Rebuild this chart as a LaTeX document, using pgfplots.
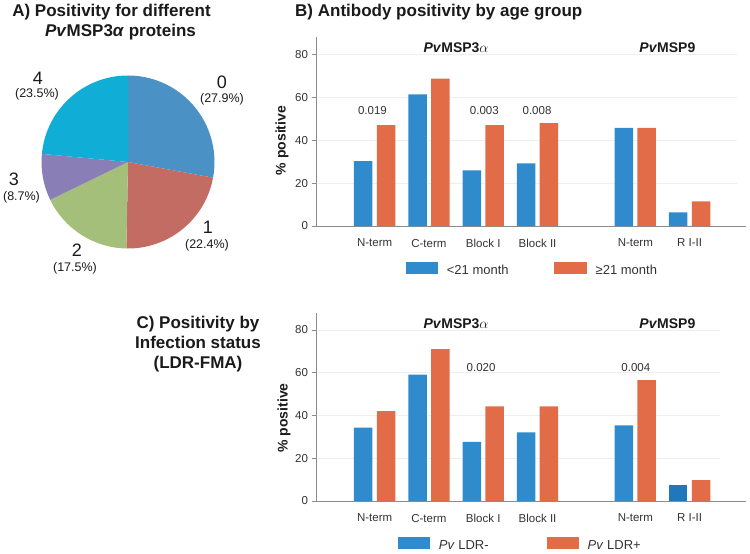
\documentclass[border=0pt]{standalone}
\usepackage{fontspec}
\setmainfont{Liberation Sans}
\usepackage{pgfplots}
\pgfplotsset{compat=1.18}
\definecolor{barblue}{HTML}{2F8BCB}
\definecolor{barbluedk}{HTML}{1F78BC}
\definecolor{barorange}{HTML}{E36C48}
\definecolor{pieA}{HTML}{4A91C6}
\definecolor{pieB}{HTML}{C26C64}
\definecolor{pieC}{HTML}{A3BF79}
\definecolor{pieD}{HTML}{8A7EB6}
\definecolor{pieE}{HTML}{10AED7}
\definecolor{axisgray}{HTML}{8C8C8C}
\definecolor{gridcol}{HTML}{ECEFF2}
\definecolor{ticktext}{HTML}{333333}
\definecolor{titletext}{HTML}{1A1A1A}

% pie shares (percent)
\pgfmathsetmacro{\aA}{90-3.6*27.9}
\pgfmathsetmacro{\aB}{\aA-3.6*22.4}
\pgfmathsetmacro{\aC}{\aB-3.6*17.5}
\pgfmathsetmacro{\aD}{\aC-3.6*8.7}
\pgfmathsetmacro{\aE}{\aD-3.6*23.5}

\pgfplotsset{
  legimg/.style={legend image code/.code={\fill[##1] (0pt,-3.6pt) rectangle (32.6pt,8.6pt);}},
  panel/.style={
    scale only axis, width=429.6pt, anchor=south west,
    xmin=-1.07, xmax=6.84, ymin=0, ymax=88,
    axis x line*=bottom, axis y line*=left,
    axis line style={draw=axisgray, line width=0.9pt, -},
    ytick={0,20,40,60,80},
    xtick={0,1,2,3,4.8,5.8},
    xticklabels={N-term,C-term,Block I,Block II,N-term,R I-II},
    x tick style={draw=none},
    y tick style={draw=axisgray, line width=0.8pt},
    tick align=outside, major tick length=5pt,
    tick label style={font=\fontsize{11.5}{13}\selectfont, text=ticktext},
    xticklabel style={yshift=-4.5pt},
    /pgf/number format/assume math mode=true,
    ybar, bar width=18.5pt,
    clip=false,
    legend columns=2,
    legend style={draw=none, fill=none, inner sep=0pt, outer sep=0pt,
      font=\fontsize{13}{15}\selectfont, text=ticktext,
      nodes={inner sep=0pt},
      /tikz/every odd column/.append style={column sep=8.6pt}},
  },
}

\begin{document}
\begin{tikzpicture}
\path[use as bounding box] (0pt,0pt) rectangle (750pt,-554pt);

% ---------------- Panel A ----------------
\node[font=\bfseries\fontsize{17}{20}\selectfont, text=titletext] at (111.5pt,-12pt) {A) Positivity for different};
\node[font=\bfseries\fontsize{17}{20}\selectfont, text=titletext] at (120.5pt,-32pt) {\textit{Pv}MSP3\textit{α} proteins};

\begin{axis}[hide axis, at={(128pt,-162pt)}, anchor=center, scale only axis,
  width=173pt, height=173pt, xmin=-1, xmax=1, ymin=-1, ymax=1, clip=false]
\fill[pieA] (axis cs:0,0) -- ++(90:86.5pt) arc[start angle=90, end angle=\aA, radius=86.5pt] -- cycle;
\fill[pieB] (axis cs:0,0) -- ++(\aA:86.5pt) arc[start angle=\aA, end angle=\aB, radius=86.5pt] -- cycle;
\fill[pieC] (axis cs:0,0) -- ++(\aB:86.5pt) arc[start angle=\aB, end angle=\aC, radius=86.5pt] -- cycle;
\fill[pieD] (axis cs:0,0) -- ++(\aC:86.5pt) arc[start angle=\aC, end angle=\aD, radius=86.5pt] -- cycle;
\fill[pieE] (axis cs:0,0) -- ++(\aD:86.5pt) arc[start angle=\aD, end angle=\aE, radius=86.5pt] -- cycle;
\end{axis}

\begin{scope}[every node/.style={text=titletext, inner sep=0pt}]
\node[font=\fontsize{18}{20}\selectfont] at (222pt,-82pt) {0};
\node[font=\fontsize{12.5}{14}\selectfont] at (222pt,-99pt) {(27.9\%)};
\node[font=\fontsize{18}{20}\selectfont] at (208pt,-227pt) {1};
\node[font=\fontsize{12.5}{14}\selectfont] at (207pt,-245pt) {(22.4\%)};
\node[font=\fontsize{18}{20}\selectfont] at (77pt,-250pt) {2};
\node[font=\fontsize{12.5}{14}\selectfont] at (75pt,-268pt) {(17.5\%)};
\node[font=\fontsize{18}{20}\selectfont] at (14pt,-179pt) {3};
\node[font=\fontsize{12.5}{14}\selectfont] at (21.5pt,-197pt) {(8.7\%)};
\node[font=\fontsize{18}{20}\selectfont] at (38pt,-78pt) {4};
\node[font=\fontsize{12.5}{14}\selectfont] at (37pt,-94pt) {(23.5\%)};
\end{scope}

% ---------------- Panel B ----------------
\node[anchor=west, inner sep=0pt, font=\bfseries\fontsize{17}{20}\selectfont, text=titletext] at (295pt,-12.5pt) {B) Antibody positivity by age group};
\node[rotate=90, font=\bfseries\fontsize{14}{16}\selectfont, text=titletext] at (282pt,-140.5pt) {\% positive};

\begin{axis}[panel, at={(316.5pt,-226pt)}, height=188.9pt,
  legend style={at={(0.2076,-0.2263)}, anchor=west,
    /tikz/every even column/.append style={column sep=45.8pt}}]
\pgfplotsinvokeforeach{20,40,60,80}{\draw[gridcol, line width=0.9pt] (axis cs:-1.05,#1) -- (axis cs:6.67,#1);}
\addplot[fill=barblue, draw=none, bar shift=-11.4pt, legimg] coordinates {(0,30.2) (1,61.3) (2,25.9) (3,29.2) (4.8,45.7) (5.8,6.4)};
\addplot[fill=barorange, draw=none, bar shift=11.4pt, legimg] coordinates {(0,47.0) (1,68.7) (2,47.0) (3,47.9) (4.8,45.7) (5.8,11.5)};
\legend{{<21 month},{≥21 month}}
\node[font=\bfseries\fontsize{14}{16}\selectfont, text=titletext] at (axis cs:1.5,82.9) {\textit{Pv}MSP3$\alpha$};
\node[font=\bfseries\fontsize{14}{16}\selectfont, text=titletext] at (axis cs:5.39,82.9) {\textit{Pv}MSP9};
\node[font=\fontsize{11.5}{13}\selectfont, text=ticktext] at (axis cs:-0.04,53.6) {0.019};
\node[font=\fontsize{11.5}{13}\selectfont, text=ticktext] at (axis cs:2.02,53.6) {0.003};
\node[font=\fontsize{11.5}{13}\selectfont, text=ticktext] at (axis cs:2.99,53.6) {0.008};
\end{axis}

% ---------------- Panel C ----------------
\node[align=center, font=\bfseries\fontsize{17}{20}\selectfont, text=titletext] at (198pt,-344pt) {C) Positivity by\\Infection status\\(LDR-FMA)};
\node[rotate=90, font=\bfseries\fontsize{14}{16}\selectfont, text=titletext] at (284pt,-418pt) {\% positive};

\begin{axis}[panel, at={(316.5pt,-501pt)}, height=188.1pt,
  legend style={at={(0.189,-0.2286)}, anchor=west,
    /tikz/every even column/.append style={column sep=57.9pt}}]
\pgfplotsinvokeforeach{20,40,60,80}{\draw[gridcol, line width=0.9pt] (axis cs:-1.05,#1) -- (axis cs:6.36,#1);}
\addplot[fill=barblue, draw=none, bar shift=-11.4pt, legimg] coordinates {(0,34.3) (1,59.1) (2,27.7) (3,32.1) (4.8,35.4)};
\addplot[fill=barorange, draw=none, bar shift=11.4pt, legimg] coordinates {(0,42.1) (1,71.0) (2,44.3) (3,44.3) (4.8,56.6) (5.8,9.8)};
\addplot[fill=barbluedk, draw=none, bar shift=-11.4pt] coordinates {(5.8,7.3)};
\legend{{\textit{Pv} LDR-},{\textit{Pv} LDR+}}
\node[font=\bfseries\fontsize{14}{16}\selectfont, text=titletext] at (axis cs:1.5,83.1) {\textit{Pv}MSP3$\alpha$};
\node[font=\bfseries\fontsize{14}{16}\selectfont, text=titletext] at (axis cs:5.39,83.1) {\textit{Pv}MSP9};
\node[font=\fontsize{11.5}{13}\selectfont, text=ticktext] at (axis cs:1.96,62.4) {0.020};
\node[font=\fontsize{11.5}{13}\selectfont, text=ticktext] at (axis cs:4.81,62.4) {0.004};
\end{axis}
\end{tikzpicture}
\end{document}
